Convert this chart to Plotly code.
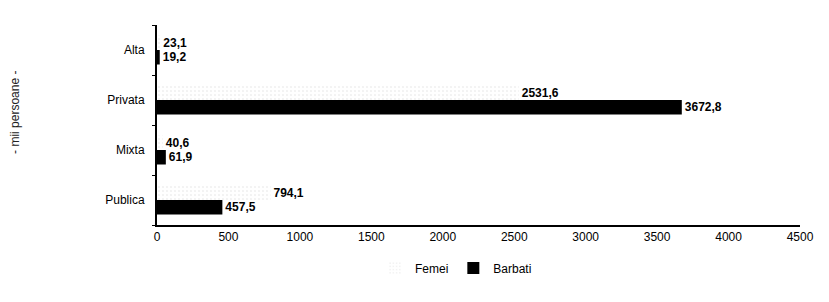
import plotly.graph_objects as go

categories = ["Publica", "Mixta", "Privata", "Alta"]
femei = [794.1, 40.6, 2531.6, 23.1]
barbati = [457.5, 61.9, 3672.8, 19.2]
x_ticks = [0, 500, 1000, 1500, 2000, 2500, 3000, 3500, 4000, 4500]


def fmt(v):
    return f"{v:.1f}".replace(".", ",")


FONT = "Liberation Sans, Arial, sans-serif"

fig = go.Figure()
fig.add_trace(go.Bar(
    y=categories, x=barbati, name="Barbati", orientation="h",
    marker=dict(color="black", line=dict(width=0)),
    text=[fmt(v) for v in barbati], textposition="outside",
    textfont=dict(family=FONT, size=12, color="black", weight="bold"),
    cliponaxis=False, legendrank=2,
))
fig.add_trace(go.Bar(
    y=categories, x=femei, name="Femei", orientation="h",
    marker=dict(color="white", line=dict(width=0),
                pattern=dict(shape=".", fgcolor="#c4c4c4", bgcolor="white", size=4, solidity=0.12)),
    text=[fmt(v) for v in femei], textposition="outside",
    textfont=dict(family=FONT, size=12, color="black", weight="bold"),
    cliponaxis=False, legendrank=1,
))

fig.update_layout(
    width=829, height=302,
    margin=dict(l=149, r=37, t=17, b=85, autoexpand=False),
    paper_bgcolor="white", plot_bgcolor="white",
    barmode="group", bargap=0.42, bargroupgap=0,
    font=dict(family=FONT, size=12, color="black"),
    showlegend=True,
    legend=dict(orientation="h", x=0.465, xanchor="center", y=-0.215, yanchor="middle",
                font=dict(family=FONT, size=12, color="black"),
                itemwidth=30, traceorder="normal"),
    xaxis=dict(range=[0, 4500], tickvals=x_ticks, ticktext=[str(t) for t in x_ticks],
               showgrid=False, zeroline=False, showline=True, linecolor="black", linewidth=2,
               ticks="", automargin=False, tickfont=dict(family=FONT, size=12, color="black")),
    yaxis=dict(type="category", categoryorder="array", categoryarray=categories,
               showgrid=False, zeroline=False, showline=True, linecolor="black", linewidth=2,
               ticks="outside", ticklen=3, tickcolor="black", tickson="boundaries",
               ticklabelstandoff=8, automargin=False,
               tickfont=dict(family=FONT, size=12, color="black")),
    annotations=[dict(text="- mii persoane -", xref="paper", yref="paper",
                      x=-0.221, y=0.565, xanchor="center", yanchor="middle",
                      textangle=-90, showarrow=False,
                      font=dict(family=FONT, size=12, color="#222"))],
)

fig.write_html("out.html")
